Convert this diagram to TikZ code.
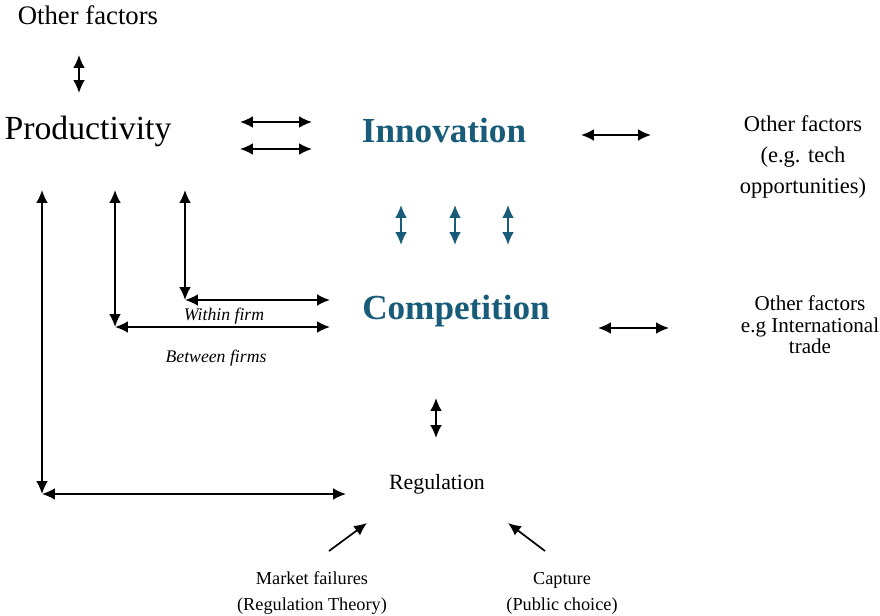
\documentclass[tikz,border=0pt]{standalone}
\usepackage{fontspec}
\setmainfont{Liberation Serif}
\usepackage{xcolor}
\usetikzlibrary{arrows.meta}

\definecolor{keyblue}{RGB}{24,92,122}

\tikzset{
  dbl/.style={{Latex[length=3.2mm,width=2.9mm]}-{Latex[length=3.2mm,width=2.9mm]}, line width=1.2pt},
  one/.style={-{Latex[length=3.2mm,width=2.9mm]}, line width=1.2pt},
  word/.style={inner sep=0pt, align=center},
  key/.style={word, text=keyblue, font=\fontsize{25}{28}\selectfont\bfseries}
}

\begin{document}
\begin{tikzpicture}[x=0.025cm, y=-0.025cm]
  \useasboundingbox (0,0) rectangle (880,616);

  % Nodes
  \node[word, font=\fontsize{24}{28}\selectfont] (prod) at (88,131) {Productivity};
  \node[key] (innov) at (444,130) {Innovation};
  \node[key] (comp) at (456,311) {Competition};
  \node[word, font=\fontsize{15.5}{18}\selectfont] (reg) at (437,484) {Regulation};
  \node[word, font=\fontsize{19}{22}\selectfont] (otherTop) at (88,15) {Other factors};
  \node[word, font=\fontsize{16}{22}\selectfont] (otherTech) at (803,157)
    {Other factors\\(e.g. tech\\opportunities)};
  \node[word, font=\fontsize{15}{15.3}\selectfont] (otherTrade) at (810,325)
    {Other factors\\e.g International\\trade};
  \node[word, font=\fontsize{12.6}{14}\selectfont\itshape] (within) at (224,316) {Within firm};
  \node[word, font=\fontsize{12.6}{14}\selectfont\itshape] (between) at (216,358) {Between firms};
  \node[word, font=\fontsize{13}{18.5}\selectfont] (market) at (312,593)
    {Market failures\\(Regulation Theory)};
  \node[word, font=\fontsize{13}{18.5}\selectfont] (capture) at (562,593)
    {Capture\\(Public choice)};

  % Arrow ends
  \foreach \n/\x/\y in {oT/79/55, oB/79/93,
                        pA/240/122, iA/312/122, pB/240/149, iB/312/149,
                        iR/581/135, tL/651/135,
                        cR/598/328, dL/669/328,
                        cD/436/398, rU/436/438,
                        wU/185/190, wC/185/300, wR/330/300,
                        bU/115/190, bC/115/327, bR/330/327,
                        gU/42/190, gC/42/494, gR/346/494,
                        mS/329/551, mE/367/523,
                        kS/545/551, kE/508/523} {
    \coordinate (\n) at (\x,\y);
  }

  % Edges
  \foreach \source/\target in {oT/oB, pA/iA, pB/iB, iR/tL, cR/dL, cD/rU,
                               wU/wC, wC/wR, bU/bC, bC/bR, gU/gC, gC/gR} {
    \draw[dbl] (\source) -- (\target);
  }
  \foreach \source/\target in {mS/mE, kS/kE} {
    \draw[one] (\source) -- (\target);
  }

  % Innovation <-> Competition
  \foreach \x in {401, 455, 508} {
    \coordinate (up\x) at (\x,205);
    \coordinate (dn\x) at (\x,245);
    \draw[dbl, keyblue] (up\x) -- (dn\x);
  }
\end{tikzpicture}
\end{document}
